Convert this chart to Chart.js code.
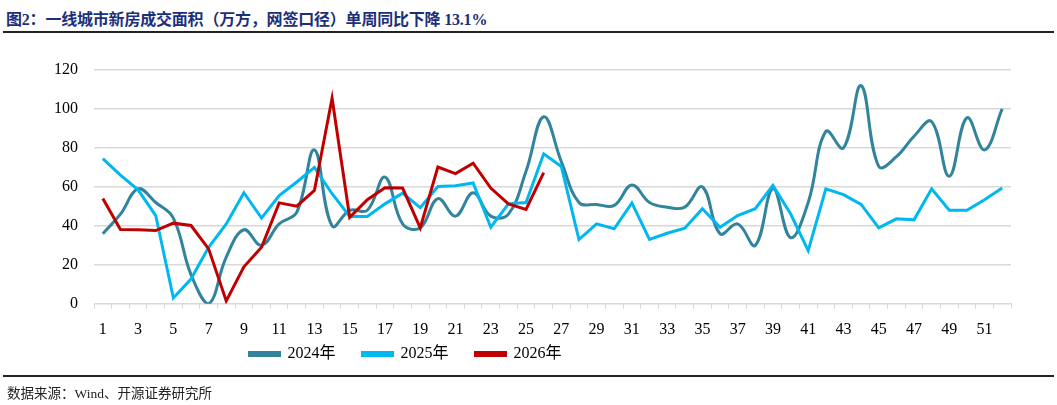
<!DOCTYPE html>
<html>
<head>
<meta charset="utf-8">
<script src="https://cdn.jsdelivr.net/npm/chart.js@4"></script>
<style>
  body { margin: 0; width: 1057px; height: 405px; background: #fff; position: relative; overflow: hidden; }
  #title { position: absolute; left: 6px; top: 6px; font: bold 16px "Liberation Serif", "Noto Sans CJK SC", serif; color: #1b2f7a; white-space: nowrap; letter-spacing: -0.2px; }
  .rule { position: absolute; left: 3px; right: 3px; height: 1.5px; background: #222; }
  #source { position: absolute; left: 7px; top: 382px; font: 13.5px "Liberation Serif", "Noto Sans CJK SC", serif; color: #222; }
  #box { position: absolute; left: 0; top: 40px; width: 1057px; height: 365px; }
</style>
</head>
<body>
<div id="title">图2：一线城市新房成交面积（万方，网签口径）单周同比下降 13.1%</div>
<div class="rule" style="top:31px"></div>
<div id="box"><canvas id="weekChart"></canvas></div>
<div class="rule" style="top:375px"></div>
<div id="source">数据来源：Wind、开源证券研究所</div>
<script>
const weeks = [];
for (let i = 1; i <= 52; i++) weeks.push(String(i));
const yTicks = [0, 20, 40, 60, 80, 100, 120];
const seriesNames = ['2024年', '2025年', '2026年'];
const y2024 = [36, 46, 59, 52, 44, 15, 0, 24, 38, 30, 41, 47, 79, 40, 48, 48, 65, 41, 39, 54,
               45, 57, 45, 46, 68, 96, 73, 52, 51, 50.5, 61, 52, 49.6, 49.6, 60, 36, 41, 30, 59, 34,
               52, 88.5, 80, 112, 70.5, 75.5, 86, 93.5, 65.5, 95.5, 79, 100];
const y2025 = [74.5, 66, 58.5, 45.3, 3, 12.7, 29, 41, 57, 44, 55.6, 62.5, 70, 56.5, 44.8, 44.8, 51.3, 56.8, 49.3, 60.2,
               60.6, 62, 39.3, 51.3, 52, 77, 70.5, 33, 41, 38.5, 51.8, 33, 36.2, 38.8, 48.8, 39.3, 45.3, 48.8, 60.8, 46.2,
               27.3, 59, 56, 51, 39, 43.6, 43.1, 59, 48, 48, 53.4, 59.4];
const y2026 = [54, 38.1, 38, 37.6, 41.4, 40.2, 28.2, 1.5, 19, 29, 51.8, 50.1, 58.2, 105.5, 44.4, 53.4, 59.6, 59.4, 39, 70.2,
               66.8, 72.2, 59.4, 51.3, 48.4, 67.3];
const lineColors = ['#31849b', '#00b8f0', '#c00000'];

const labelFont = { family: '"Liberation Serif", "Noto Sans CJK SC", serif', size: 16 };

// Excel puts the legend left of centre and close under the axis labels
const legendShift = {
  id: 'legendShift',
  afterLayout(chart) {
    chart.legend.left -= 119;
    chart.legend.right -= 119;
    chart.legend.top -= 31;
    chart.legend.bottom -= 31;
  }
};

const ctx = document.getElementById('weekChart').getContext('2d');
const weekChart = new Chart(ctx, {
  type: 'line',
  data: {
    labels: weeks,
    datasets: [
      { label: seriesNames[0], data: y2024, borderColor: lineColors[0], backgroundColor: lineColors[0],
        borderWidth: 3, pointRadius: 0, tension: 0.4, order: 3 },
      { label: seriesNames[1], data: y2025, borderColor: lineColors[1], backgroundColor: lineColors[1],
        borderWidth: 3, pointRadius: 0, tension: 0, order: 2 },
      { label: seriesNames[2], data: y2026, borderColor: lineColors[2], backgroundColor: lineColors[2],
        borderWidth: 3, pointRadius: 0, tension: 0, order: 1 }
    ]
  },
  options: {
    responsive: true,
    maintainAspectRatio: false,
    animation: false,
    layout: { padding: { left: 38, right: 46, top: 30, bottom: 2 } },
    scales: {
      x: {
        offset: true,
        grid: { offset: true, drawOnChartArea: false, drawTicks: true, tickLength: 5, color: '#d9d9d9' },
        border: { color: '#d9d9d9' },
        ticks: {
          autoSkip: false, maxRotation: 0, padding: 11, color: '#000', font: labelFont,
          callback: function(value, index) {
            return index % 2 === 0 ? weeks[index] : '';
          }
        }
      },
      y: {
        min: yTicks[0],
        max: yTicks[yTicks.length - 1],
        afterBuildTicks: function(axis) {
          axis.ticks = yTicks.map(v => ({ value: v }));
        },
        grid: { color: '#d9d9d9', lineWidth: 1.5, drawTicks: false },
        border: { display: false },
        ticks: { padding: 16, color: '#000', font: labelFont }
      }
    },
    plugins: {
      legend: {
        position: 'bottom',
        labels: {
          boxWidth: 30, boxHeight: 3, padding: 27, color: '#000', font: labelFont,
          sort: (a, b) => a.datasetIndex - b.datasetIndex
        }
      },
      tooltip: { enabled: false }
    }
  },
  plugins: [legendShift]
});
</script>
</body>
</html>
